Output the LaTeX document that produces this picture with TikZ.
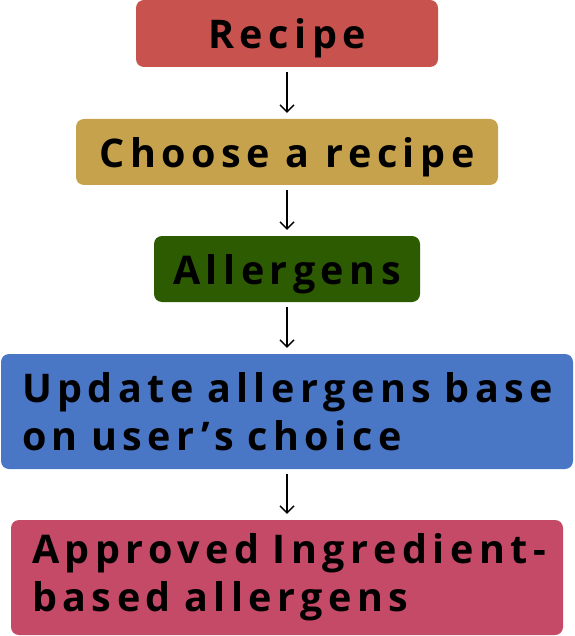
\documentclass[tikz,border=0pt]{standalone}
\usepackage{fontspec}
\usetikzlibrary{arrows.meta,positioning}
\newfontfamily\StepFont{Open Sans}[LetterSpace=14]
\definecolor{RecipeRed}{HTML}{C8524E}
\definecolor{ChooseGold}{HTML}{C6A24C}
\definecolor{AllergenGreen}{HTML}{2D5B02}
\definecolor{UpdateBlue}{HTML}{4A76C6}
\definecolor{ApprovedRose}{HTML}{C54A67}
\tikzset{
  stepbox/.style={rounded corners=8pt,inner xsep=21pt,inner ysep=0pt,text=black,
    font=\StepFont\bfseries\fontsize{39.5}{48}\selectfont},
  oneline/.style={stepbox,inner xsep=8pt,text depth=0pt,minimum height=66pt},
  twoline/.style={stepbox,align=left,minimum height=115pt},
  flow/.style={-{Straight Barb[length=7pt,width=14pt]},line width=1.4pt,
    shorten <=5pt,shorten >=6pt},
}

\begin{document}
\begin{tikzpicture}[x=1pt,y=-1pt]
\useasboundingbox (0,0) rectangle (574,636);
\node[oneline,fill=RecipeRed,minimum width=302pt,minimum height=67pt] (recipe) at (287,33.5) {Recipe};
\node[oneline,fill=ChooseGold,minimum width=422pt] (choose) at (287,152) {Choose a recipe};
\node[oneline,fill=AllergenGreen,minimum width=266pt] (allergens) at (287,269) {Allergens};
\node[twoline,fill=UpdateBlue,text width=530pt] (update) at (287,411.5)
  {\mbox{Update allergens base}\\on user’s choice};
\node[twoline,fill=ApprovedRose,text width=510pt] (approved) at (287,577.5)
  {\mbox{Approved Ingredient-}\\based allergens};
\draw[flow] (recipe) -- (choose);
\draw[flow] (choose) -- (allergens);
\draw[flow] (allergens) -- (update);
\draw[flow] (update) -- (approved);
\end{tikzpicture}
\end{document}
